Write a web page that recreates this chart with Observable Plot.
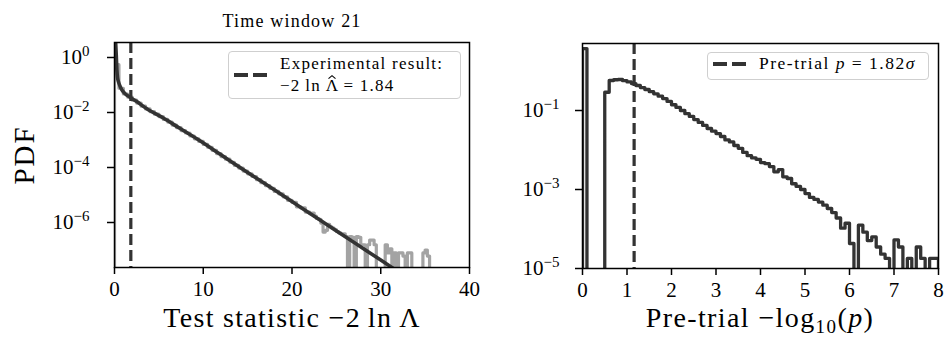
<!DOCTYPE html>
<html>
<head>
<meta charset="utf-8">
<script src="https://cdn.jsdelivr.net/npm/d3@7"></script>
<script src="https://cdn.jsdelivr.net/npm/@observablehq/plot@0.6"></script>
<style>
  html, body { margin:0; padding:0; background:#fff; }
  #fig { position:relative; width:945px; height:349px; overflow:hidden; background:#fff;
         font-family:"Liberation Serif","DejaVu Serif",serif; color:#000; }
  .panel { position:absolute; top:0; }
  .panel svg { display:block; }
  .txt { position:absolute; white-space:nowrap; line-height:1; }
  .legend { position:absolute; box-sizing:border-box; border:1.3px solid #cfcfcf; border-radius:4px; background:rgba(255,255,255,0.85); }
  .sample { position:absolute; overflow:visible; }
  .hat { position:relative; display:inline-block; letter-spacing:0; }
  .hat > svg { position:absolute; left:50%; top:-2px; transform:translateX(-50%); overflow:visible; }
</style>
</head>
<body>
<div id="fig"></div>
<script>
// ---------------- data ----------------
const leftTitle = "Time window 21";
const leftXTicks = [0, 10, 20, 30, 40];
const leftYTicks = [1e0, 1e-2, 1e-4, 1e-6];
const rightXTicks = [0, 1, 2, 3, 4, 5, 6, 7, 8];
const rightYTicks = [1e-1, 1e-3, 1e-5];

const experimentalTS = 1.84;       // -2 ln Lambda-hat
const pretrialSigma = 1.82;
const pretrialNegLogP = 1.16;      // -log10(p) of the dashed line

// smooth expected PDF (dark curve, left panel)
const curveX = [0.12, 0.2, 0.27, 0.34, 0.45, 0.6, 0.83, 1.2, 1.8, 2.5, 3.6, 5.5, 7.4, 9.5, 12, 15, 18, 21, 24, 27, 30, 32];
const curveY = [4.0, 1.2, 0.35, 0.19, 0.13, 0.095, 0.066, 0.048, 0.035, 0.025, 0.014, 6.3e-3, 2.6e-3, 1.0e-3, 2.9e-4, 6.6e-5, 1.55e-5, 3.5e-6, 8.1e-7, 1.86e-7, 4.3e-8, 1.6e-8];

// simulated histogram (grey, left panel): bins of 0.5 from 0 to 22, then 0.25 from 22 to 36
const grayCoarseWidth = 0.5, grayFineWidth = 0.25, grayFineStart = 22, grayEnd = 36;
const grayCoarse = [0.55, 7.6e-2, 4.7e-2, 3.6e-2, 2.8e-2, 2.2e-2, 1.7e-2, 1.35e-2, 1.07e-2, 8.7e-3,
  7.1e-3, 5.6e-3, 4.5e-3, 3.5e-3, 2.8e-3, 2.2e-3, 1.8e-3, 1.4e-3, 1.1e-3, 8.9e-4,
  6.9e-4, 5.4e-4, 4.2e-4, 3.2e-4, 2.5e-4, 2.0e-4, 1.55e-4, 1.2e-4, 9.5e-5, 7.4e-5,
  5.9e-5, 4.7e-5, 3.6e-5, 2.8e-5, 2.2e-5, 1.75e-5, 1.35e-5, 1.1e-5, 8.6e-6, 6.4e-6,
  5.4e-6, 3.7e-6, 3.4e-6, 2.4e-6];
const grayFine = [2.1e-6, 2.2e-6, 1.7e-6, 1.4e-6, 1.3e-6, 9.5e-7, 4.5e-7, 5.2e-7, 8.5e-7, 7.0e-7,
  6.2e-7, 5.5e-7, 4.7e-7, 4.2e-7, 3.9e-7, 3.9e-7, 3.1e-7, 0, 3.1e-7, 2.9e-7,
  0, 3.1e-7, 2.9e-7, 1.55e-7, 1.55e-7, 0, 1.55e-7, 2.3e-7, 2.3e-7, 1.55e-7,
  0, 0, 0, 0, 1.55e-7, 7.8e-8, 1.1e-7, 0, 7.8e-8, 0,
  7.8e-8, 7.8e-8, 6.0e-8, 0, 7.8e-8, 7.8e-8, 0, 0, 0, 0,
  0, 7.8e-8, 1.0e-7, 6.0e-8, 0, 0];

// pre-trial -log10(p) histogram (right panel), bins of 0.1 from 0 to 8
const pretrialBinWidth = 0.1, pretrialEnd = 8;
const pretrialPdf = [3.7, 0, 0, 0, 0, 0.29, 0.575, 0.60, 0.61, 0.57,
  0.53, 0.48, 0.43, 0.38, 0.34, 0.30, 0.265, 0.23, 0.20, 0.17,
  0.14, 0.12, 0.10, 0.083, 0.071, 0.059, 0.050, 0.042, 0.035, 0.030,
  0.026, 0.022, 0.018, 0.016, 0.013, 0.011, 0.0087, 0.0072, 0.0063, 0.0058,
  0.0048, 0.0045, 0.0038, 0.0028, 0.0032, 0.0021, 0.0019, 0.0014, 0.0012, 0.0010,
  7.9e-4, 6.3e-4, 5.6e-4, 4.8e-4, 4.0e-4, 3.3e-4, 2.6e-4, 1.9e-4, 1.05e-4, 1.4e-4,
  4.3e-5, 0, 1.25e-4, 8.3e-5, 5.1e-5, 6.3e-5, 3.5e-5, 2.3e-5, 1.8e-5, 0,
  5.3e-5, 3.5e-5, 0, 1.8e-5, 0, 3.5e-5, 1.8e-5, 0, 1.8e-5, 1.8e-5];

// ---------------- helpers ----------------
const FLOOR = 1e-15; // empty bins drop below the axes (clipped)
const dark = "#333333", grey = "#a3a3a3";
function stepPoints(edges, vals, end) {
  const pts = [{x: edges[0], y: FLOOR}];
  edges.forEach((e, i) => pts.push({x: e, y: vals[i] > 0 ? vals[i] : FLOOR}));
  const last = vals[vals.length - 1];
  pts.push({x: end, y: last > 0 ? last : FLOOR});
  pts.push({x: end, y: FLOOR});
  return pts;
}
const powFmt = d => "10^" + Math.round(Math.log10(d));
function supify(svg, supSize, raise) {
  const ns = "http://www.w3.org/2000/svg";
  svg.querySelectorAll("text").forEach(t => {
    const s = t.textContent;
    if (!s.includes("^")) return;
    const [b, e] = s.split("^");
    t.textContent = "";
    const t1 = document.createElementNS(ns, "tspan"); t1.textContent = b;
    const t2 = document.createElementNS(ns, "tspan"); t2.textContent = e.replace("-", "\u2212");
    t2.setAttribute("font-size", supSize); t2.setAttribute("dy", -raise);
    t.append(t1, t2);
  });
}
const fig = document.getElementById("fig");
function place(el, left) { const d = document.createElement("div"); d.className = "panel"; d.style.left = left + "px"; d.appendChild(el); fig.appendChild(d); }
function addText(html, left, top, size, extra) {
  const d = document.createElement("div"); d.className = "txt"; d.innerHTML = html;
  d.style.left = left + "px"; d.style.top = top + "px"; d.style.fontSize = size + "px";
  if (extra) Object.assign(d.style, extra);
  fig.appendChild(d); return d;
}

const baseStyle = {fontFamily: "Liberation Serif, DejaVu Serif, serif", fontSize: "21px", color: "#000", background: "transparent", overflow: "visible"};

// ---------------- left panel ----------------
const grayEdges = [...d3.range(0, grayFineStart, grayCoarseWidth), ...d3.range(grayFineStart, grayEnd, grayFineWidth)];
const grayPdf = [...grayCoarse, ...grayFine];
const grayPts = stepPoints(grayEdges, grayPdf, grayEnd);
const curvePts = curveX.map((x, i) => ({x, y: curveY[i]}));

const left = Plot.plot({
  width: 500, height: 349,
  marginLeft: 114, marginRight: 31, marginTop: 42, marginBottom: 82,
  x: {domain: [0, 40]},
  y: {type: "log", domain: [2.31e-8, 3.51]},
  style: baseStyle,
  marks: [
    Plot.line(grayPts, {x: "x", y: "y", curve: "step-after", stroke: grey, strokeWidth: 3.2, clip: true}),
    Plot.line(curvePts, {x: "x", y: "y", curve: "monotone-x", stroke: dark, strokeWidth: 3.6, clip: true}),
    Plot.ruleX([experimentalTS], {stroke: dark, strokeWidth: 3.2, strokeDasharray: "11,5"}),
    Plot.frame({stroke: "#000", strokeWidth: 1.5}),
    Plot.axisX({ticks: leftXTicks, tickSize: 7, tickPadding: 7, strokeWidth: 1.5, label: null, tickFormat: d => String(d)}),
    Plot.axisY({ticks: leftYTicks, tickSize: 7, tickPadding: 18, strokeWidth: 1.5, label: null, tickFormat: powFmt})
  ]
});
supify(left, 15, 8);
place(left, 0);

// ---------------- right panel ----------------
const preEdges = pretrialPdf.map((_, i) => i * pretrialBinWidth);
const prePts = stepPoints(preEdges, pretrialPdf, pretrialEnd);
const right = Plot.plot({
  width: 445, height: 349,
  marginLeft: 82, marginRight: 7, marginTop: 43, marginBottom: 81,
  x: {domain: [0, 8]},
  y: {type: "log", domain: [1e-5, 4.97]},
  style: baseStyle,
  marks: [
    Plot.line(prePts, {x: "x", y: "y", curve: "step-after", stroke: dark, strokeWidth: 3.3, clip: true}),
    Plot.ruleX([pretrialNegLogP], {stroke: dark, strokeWidth: 3.2, strokeDasharray: "11,5"}),
    Plot.frame({stroke: "#000", strokeWidth: 1.5}),
    Plot.axisX({ticks: rightXTicks, tickSize: 7, tickPadding: 7, strokeWidth: 1.5, label: null, tickFormat: d => String(d)}),
    Plot.axisY({ticks: rightYTicks, tickSize: 7, tickPadding: 16, strokeWidth: 1.5, label: null, tickFormat: powFmt})
  ]
});
supify(right, 15, 8);
place(right, 500);

// ---------------- titles and axis labels ----------------
addText(leftTitle, 292, 12, 18, {transform: "translateX(-50%)", letterSpacing: "1.2px"});
addText("Test statistic \u22122\u2009ln\u2009\u039B", 292, 304, 28, {transform: "translateX(-50%)", letterSpacing: "1.3px"});
addText("Pre-trial \u2212log<sub style='font-size:19px;vertical-align:-6px;line-height:0'>10</sub>(<i>p</i>)", 760, 304, 28, {transform: "translateX(-50%)", letterSpacing: "1.4px"});
addText("PDF", 24, 155, 29, {transform: "translate(-50%,-50%) rotate(-90deg)", letterSpacing: "2px"});

// ---------------- legends ----------------
function legend(box, line, texts, size, ls) {
  const b = document.createElement("div"); b.className = "legend";
  Object.assign(b.style, {left: box[0] + "px", top: box[1] + "px", width: box[2] + "px", height: box[3] + "px"});
  fig.appendChild(b);
  const ns = "http://www.w3.org/2000/svg";
  const s = document.createElementNS(ns, "svg"); s.setAttribute("class", "sample");
  s.setAttribute("width", line[2] - line[0]); s.setAttribute("height", 10);
  s.style.left = line[0] + "px"; s.style.top = (line[1] - 5) + "px";
  const l = document.createElementNS(ns, "line");
  l.setAttribute("x1", 0); l.setAttribute("x2", line[2] - line[0]); l.setAttribute("y1", 5); l.setAttribute("y2", 5);
  l.setAttribute("stroke", dark); l.setAttribute("stroke-width", 4); l.setAttribute("stroke-dasharray", "14,5");
  s.appendChild(l); fig.appendChild(s);
  texts.forEach(t => addText(t[0], t[1], t[2], size, {letterSpacing: ls + "px"}));
}
const hatSvg = "<svg width='8' height='4' viewBox='0 0 8 4'><polyline points='0.5,3.6 4,0.6 7.5,3.6' fill='none' stroke='#000' stroke-width='1.1'/></svg>";
legend([228, 51, 233, 48], [234, 75, 267],
  [["Experimental result:", 280, 55],
   ["\u22122\u2009ln\u2009<span class='hat'>\u039B" + hatSvg + "</span> = " + experimentalTS, 280, 77]], 17, 1.25);
legend([707, 52, 222, 28], [713, 64, 747],
  [["Pre-trial <i>p</i> = " + pretrialSigma + "<i>\u03C3</i>", 759, 55]], 17.5, 1.5);
</script>
</body>
</html>
